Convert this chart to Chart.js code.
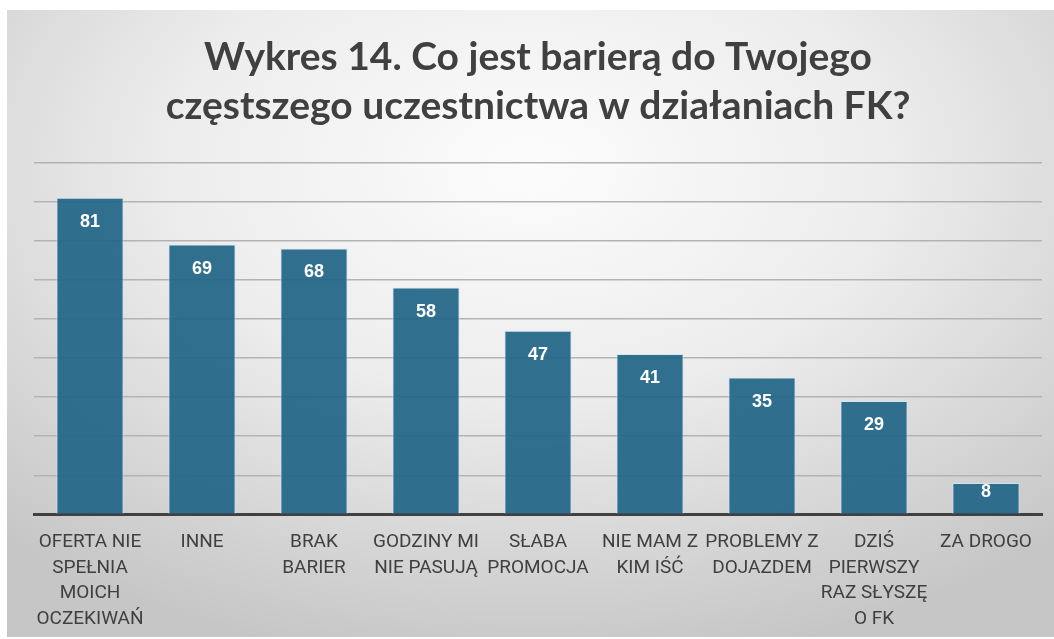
<!DOCTYPE html>
<html>
<head>
<meta charset="utf-8">
<script src="https://cdn.jsdelivr.net/npm/chart.js@4"></script>
<style>
  html, body { margin: 0; padding: 0; background: #ffffff; overflow: hidden; }
  #frame {
    position: absolute; left: 7px; top: 10px; width: 1047px; height: 627px;
    background: radial-gradient(ellipse 75% 80% at 50% 25%, #fcfcfc 0%, #ededed 45%, #d4d4d4 80%, #c6c6c6 100%);
  }
  #wrap { position: absolute; left: 0; top: 0; width: 1054px; height: 639px; overflow: hidden; }
</style>
</head>
<body>
<div id="frame"></div>
<div id="wrap"><canvas id="c" width="1054" height="648"></canvas></div>
<script>
const titleLines = ["Wykres 14. Co jest barierą do Twojego", "częstszego uczestnictwa w działaniach FK?"];
const categories = [
  ["OFERTA NIE", "SPEŁNIA", "MOICH", "OCZEKIWAŃ"],
  ["INNE"],
  ["BRAK", "BARIER"],
  ["GODZINY MI", "NIE PASUJĄ"],
  ["SŁABA", "PROMOCJA"],
  ["NIE MAM Z", "KIM IŚĆ"],
  ["PROBLEMY Z", "DOJAZDEM"],
  ["DZIŚ", "PIERWSZY", "RAZ SŁYSZĘ", "O FK"],
  ["ZA DROGO"]
];
const values = [81, 69, 68, 58, 47, 41, 35, 29, 8];
const yMin = 0, yMax = 90, yStep = 10;

const valueLabels = {
  id: 'valueLabels',
  afterDatasetsDraw(chart) {
    const ctx = chart.ctx;
    const meta = chart.getDatasetMeta(0);
    ctx.save();
    ctx.fillStyle = '#ffffff';
    ctx.font = 'bold 18px "Liberation Sans", Arial, sans-serif';
    ctx.textAlign = 'center';
    ctx.textBaseline = 'middle';
    meta.data.forEach((bar, i) => {
      const h = bar.base - bar.y;
      const off = Math.min(24, h / 2 - 6);
      ctx.fillText(String(values[i]), bar.x, bar.y + off);
    });
    ctx.restore();
  }
};

new Chart(document.getElementById('c'), {
  type: 'bar',
  data: {
    labels: categories,
    datasets: [{
      data: values,
      backgroundColor: 'rgba(34,101,136,0.93)',
      borderColor: 'rgba(205,230,242,0.9)',
      borderWidth: 1,
      categoryPercentage: 1.0,
      barPercentage: 0.6
    }]
  },
  options: {
    responsive: false,
    animation: false,
    devicePixelRatio: 1,
    layout: { padding: { left: 34, right: 12, top: 33, bottom: 1 } },
    plugins: {
      legend: { display: false },
      tooltip: { enabled: false },
      title: {
        display: true,
        text: titleLines,
        color: '#404040',
        font: { family: 'Lato, "Liberation Sans", sans-serif', size: 39, weight: 'bold', lineHeight: 1.25 },
        padding: { top: 0, bottom: 32 }
      }
    },
    scales: {
      x: {
        grid: { display: false, drawTicks: false },
        border: { display: true, color: '#404040', width: 3 },
        ticks: {
          color: '#404040',
          font: { family: 'Roboto, "Liberation Sans", sans-serif', size: 19, lineHeight: 1.35 },
          maxRotation: 0, minRotation: 0, autoSkip: false,
          padding: 15
        }
      },
      y: {
        min: yMin, max: yMax,
        ticks: { display: false, stepSize: yStep },
        border: { display: false },
        grid: { color: '#b3b3b3', lineWidth: 1.5, drawTicks: false }
      }
    }
  },
  plugins: [valueLabels]
});
</script>
</body>
</html>
